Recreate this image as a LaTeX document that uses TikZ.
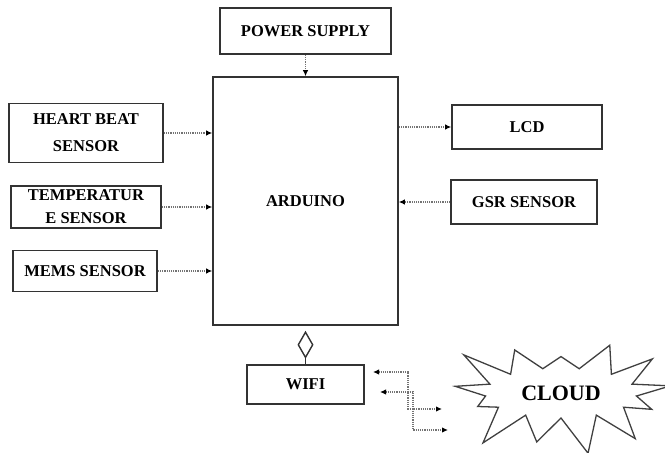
\documentclass[tikz,border=0pt]{standalone}
\usepackage{fontspec}
\setmainfont{Liberation Serif}
\usetikzlibrary{arrows.meta,shapes.symbols}

\begin{document}
\begin{tikzpicture}[x=1pt,y=-1pt,
  blk/.style={draw=black!80, line width=1.6pt, fill=white, inner sep=0pt, align=center,
    font=\fontsize{16.5}{27}\selectfont\bfseries},
  link/.style={draw=black!55, densely dotted, line width=1.2pt,
    -{Latex[length=6pt,width=5.5pt,color=black]}},
  duplex/.style={link, {Latex[length=6pt,width=5.5pt,color=black]}-{Latex[length=6pt,width=5.5pt,color=black]}}
]
\useasboundingbox (0,0) rectangle (665,453);

% blocks
\node[blk, minimum width=171pt, minimum height=46pt] (power) at (305.5,31) {POWER SUPPLY};
\node[blk, minimum width=185pt, minimum height=248pt] (arduino) at (305.5,201) {ARDUINO};
\node[blk, minimum width=154pt, minimum height=59pt] (hb) at (86,133) {HEART BEAT\\SENSOR};
\node[blk, minimum width=150pt, minimum height=42pt, font=\fontsize{16.5}{23}\selectfont\bfseries] (temp) at (86,207) {TEMPERATUR\\E SENSOR};
\node[blk, minimum width=144pt, minimum height=41pt] (mems) at (85,271) {MEMS SENSOR};
\node[blk, minimum width=150pt, minimum height=44pt] (lcd) at (527,127) {LCD};
\node[blk, minimum width=146pt, minimum height=44pt] (gsr) at (524,202) {GSR SENSOR};
\node[blk, minimum width=117pt, minimum height=39pt] (wifi) at (305.5,384.5) {WIFI};
\node[starburst, draw=black!75, line width=1.3pt, starburst points=13, starburst point height=44pt,
  random starburst=23, minimum width=240pt, minimum height=138pt, inner sep=0pt,
  font=\fontsize{22}{24}\selectfont\bfseries] (cloud) at (561,393) {CLOUD};

% ends of the wifi-cloud links
\coordinate (w1) at (373,372);
\coordinate (c1) at (442,409);
\coordinate (w2) at (380,392);
\coordinate (c2) at (448,430);

% connectors
\draw[link] (power) -- (arduino.north);
\draw[link] (hb) -- (hb -| arduino.west);
\draw[link] (temp) -- (temp -| arduino.west);
\draw[link] (mems) -- (mems -| arduino.west);
\draw[link] (lcd -| arduino.east) -- (lcd.west);
\draw[link] (gsr.west) -- (gsr -| arduino.east);
\draw[line width=1.4pt, draw=black!80, -{Diamond[open,length=28pt,width=16pt]}, shorten >=5pt]
  (wifi.north) -- (arduino.south);
\draw[duplex] (w1) -| (408,409) -- (c1);
\draw[duplex] (w2) -| (413,430) -- (c2);
\end{tikzpicture}
\end{document}
